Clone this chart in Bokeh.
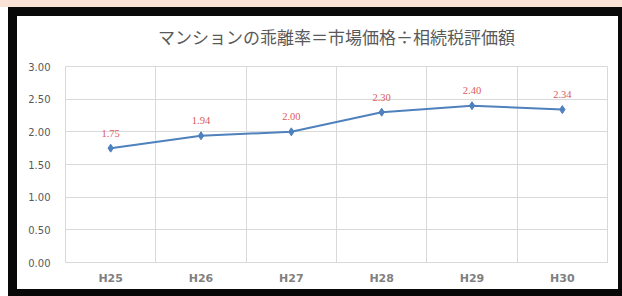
from bokeh.plotting import figure
from bokeh.models import (FixedTicker, Range1d, ColumnDataSource, LabelSet,
                          NumeralTickFormatter)
from bokeh.embed import file_html
from bokeh.resources import INLINE

# ---- data ----
categories = ["H25", "H26", "H27", "H28", "H29", "H30"]
values = [1.75, 1.94, 2.00, 2.30, 2.40, 2.34]
value_labels = ["1.75", "1.94", "2.00", "2.30", "2.40", "2.34"]
y_ticks = [0.0, 0.5, 1.0, 1.5, 2.0, 2.5, 3.0]
title_text = "マンションの乖離率＝市場価格÷相続税評価額"

xs = [i + 0.5 for i in range(len(categories))]
src = ColumnDataSource(dict(x=xs, y=values, lab=value_labels))

p = figure(width=622, height=296, output_backend="svg", toolbar_location=None,
           x_range=Range1d(0, len(categories)), y_range=Range1d(0, 3),
           min_border_left=65, min_border_right=15, min_border_top=66,
           min_border_bottom=34)
p.border_fill_color = None
p.background_fill_color = "white"
grid_c = "#d9d9d9"
p.outline_line_color = grid_c

# decorative page frame (pink strip, black border, white card)
p.styles = {
    "background": ("linear-gradient(#f9e1d6,#f9e1d6) 0 0/100% 7px no-repeat, "
                   "linear-gradient(#fff,#fff) 17px 16px/601px 273px no-repeat, "
                   "linear-gradient(#080808,#080808) 8px 7px/614px 289px no-repeat, "
                   "#fff")
}

p.title.text = title_text
p.title.align = "center"
p.title.text_font = "Noto Sans CJK JP"
p.title.text_font_size = "17px"
p.title.text_font_style = "normal"
p.title.text_color = "#595959"
p.title.standoff = 36

p.xgrid.ticker = FixedTicker(ticks=list(range(len(categories) + 1)))
p.ygrid.ticker = FixedTicker(ticks=y_ticks)
p.xgrid.grid_line_color = grid_c
p.ygrid.grid_line_color = grid_c

xa = p.xaxis[0]
xa.ticker = FixedTicker(ticks=xs)
xa.major_label_overrides = {x: c for x, c in zip(xs, categories)}
xa.axis_line_color = grid_c
xa.major_tick_line_color = None
xa.minor_tick_line_color = None
xa.major_tick_out = 0
xa.major_tick_in = 0
xa.minor_tick_out = 0
xa.minor_tick_in = 0
xa.major_label_standoff = 9
xa.major_label_text_font = "DejaVu Sans"
xa.major_label_text_font_size = "11px"
xa.major_label_text_font_style = "bold"
xa.major_label_text_color = "#808080"

ya = p.yaxis[0]
ya.ticker = FixedTicker(ticks=y_ticks)
ya.formatter = NumeralTickFormatter(format="0.00")
ya.axis_line_color = None
ya.major_tick_line_color = None
ya.minor_tick_line_color = None
ya.major_tick_out = 0
ya.major_tick_in = 0
ya.minor_tick_out = 0
ya.minor_tick_in = 0
ya.major_label_standoff = 15
ya.major_label_text_font = "DejaVu Sans"
ya.major_label_text_font_size = "10px"
ya.major_label_text_color = "#595959"

line_c = "#4f81bd"
p.line("x", "y", source=src, line_color=line_c, line_width=2)
p.scatter("x", "y", source=src, marker="diamond", size=8,
          fill_color=line_c, line_color=line_c)

p.add_layout(LabelSet(x="x", y="y", text="lab", source=src, y_offset=15,
                      text_align="center", text_baseline="middle",
                      text_font_size="10.5px", text_font="DejaVu Sans",
                      text_color="#dc5a5a"))

open("out.html", "w").write(file_html(p, INLINE))
